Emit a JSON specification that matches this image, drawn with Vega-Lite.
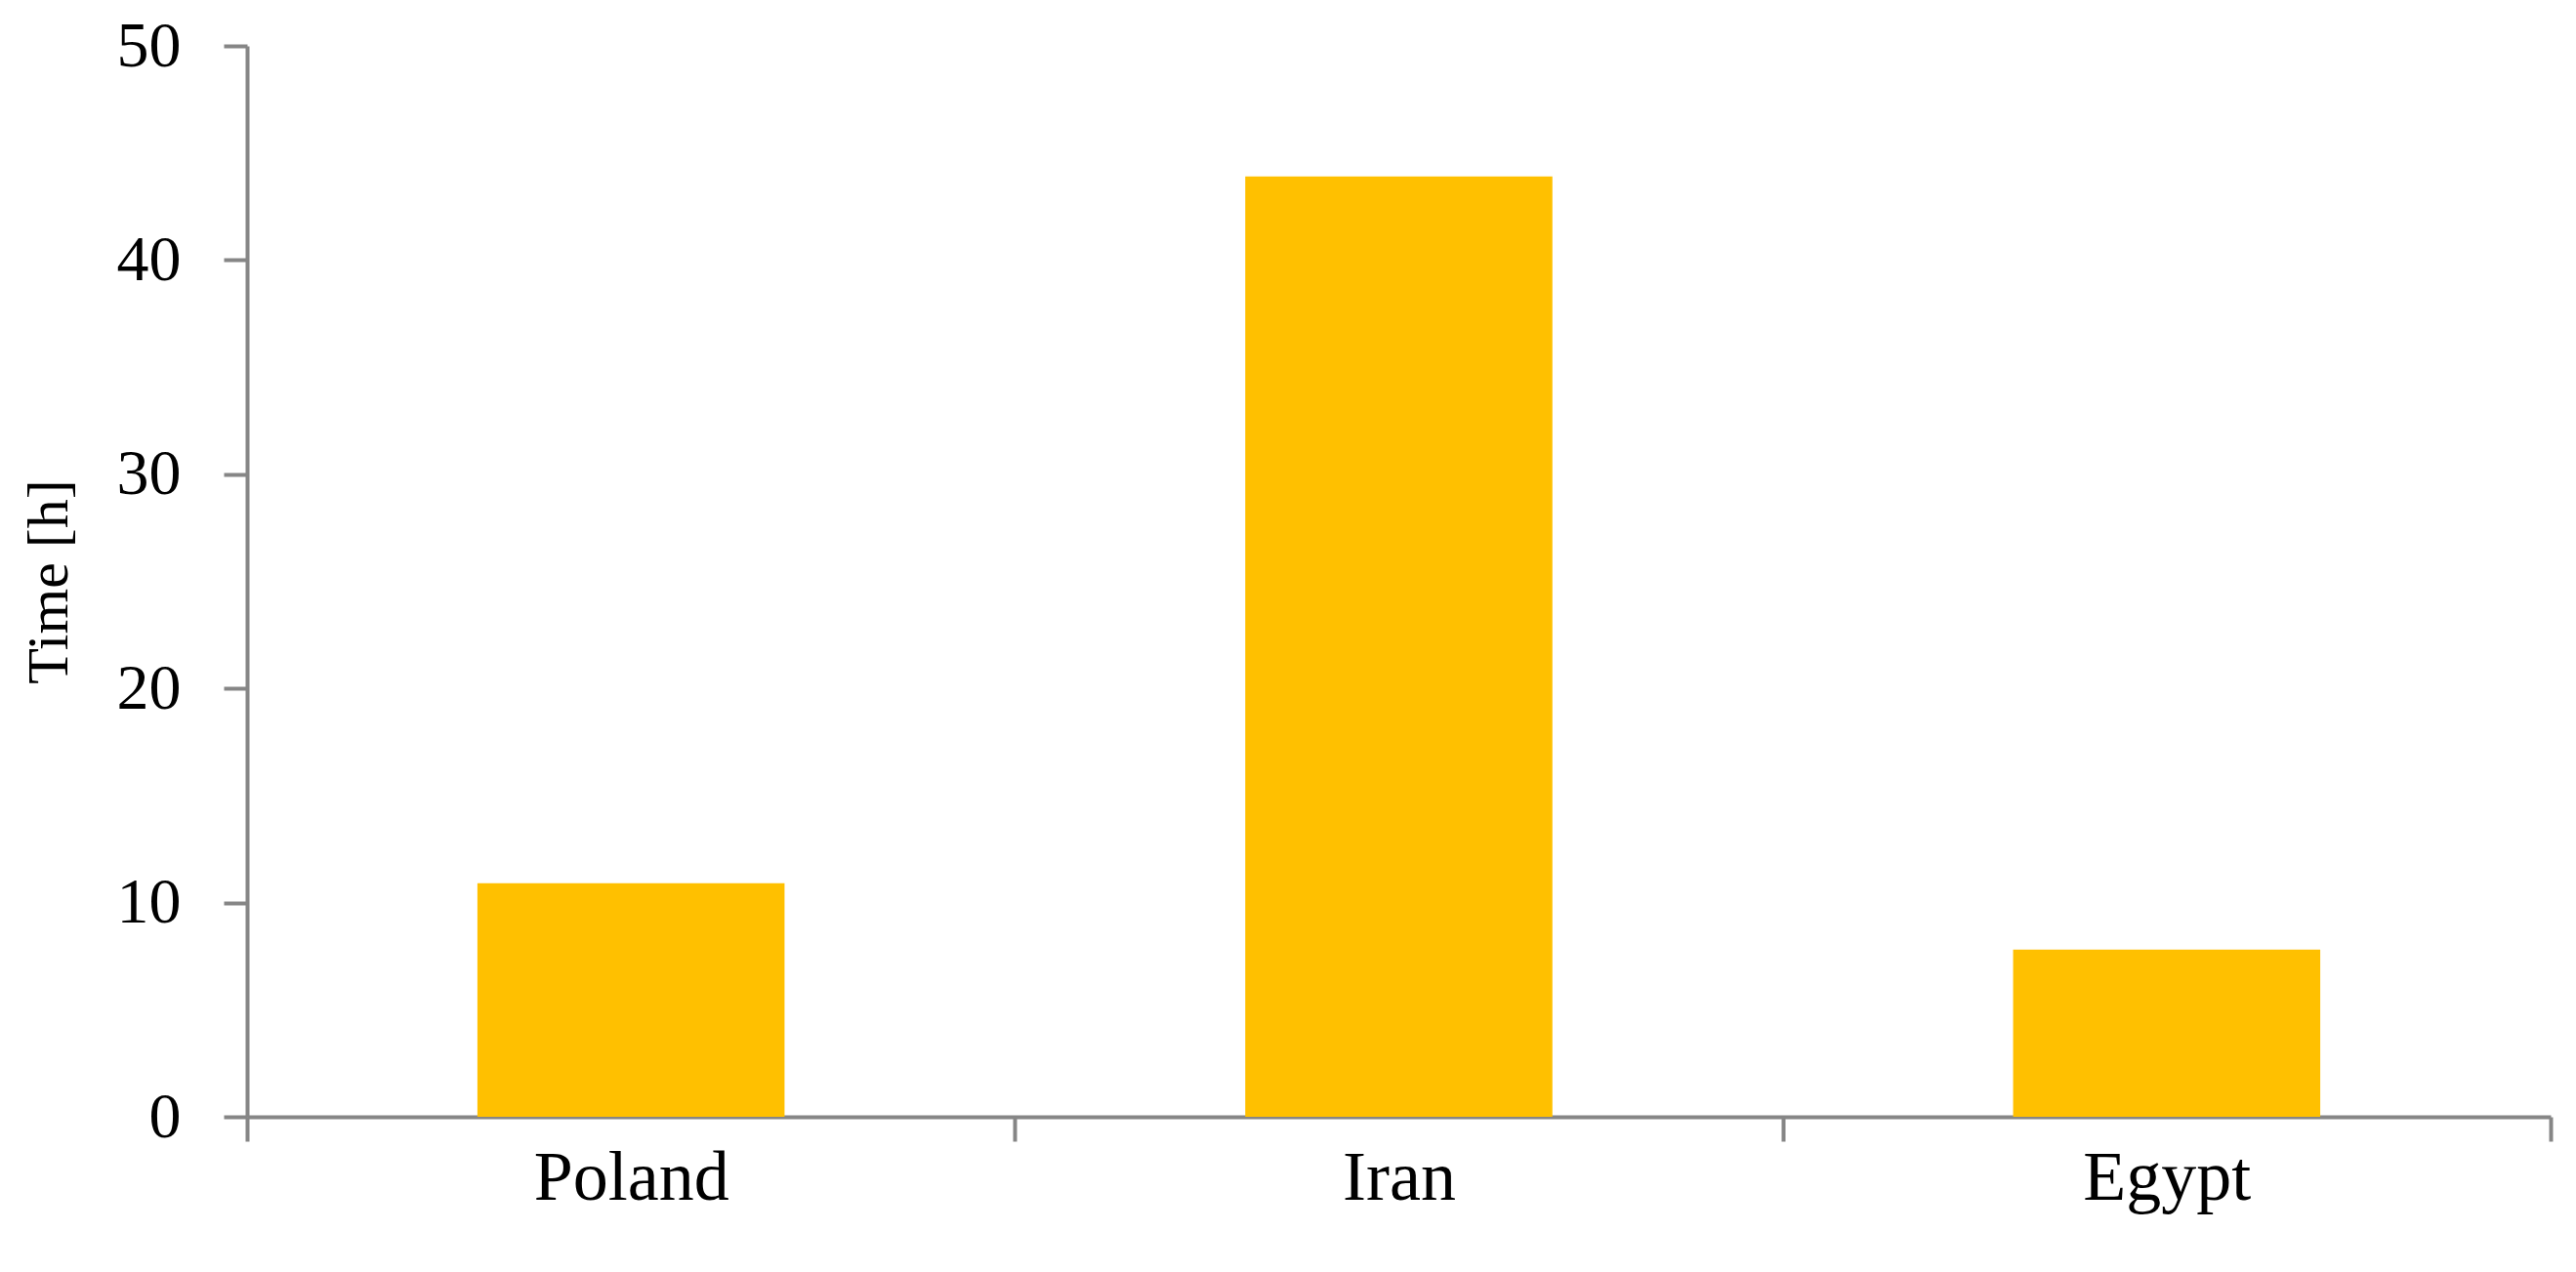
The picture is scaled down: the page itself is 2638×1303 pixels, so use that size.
{
  "$schema": "https://vega.github.io/schema/vega-lite/v6.json",
  "width": 2359,
  "height": 1097,
  "autosize": {"type": "none"},
  "padding": {"left": 253, "top": 47, "right": 26, "bottom": 159},
  "background": "white",
  "data": {"values": [
    {"country": "Poland", "time": 10.9},
    {"country": "Iran", "time": 43.9},
    {"country": "Egypt", "time": 7.8}
  ]},
  "config": {
    "view": {"stroke": null},
    "font": "Liberation Serif",
    "axis": {
      "domainColor": "#868686",
      "tickColor": "#868686",
      "domainWidth": 4,
      "tickWidth": 4,
      "labelColor": "black",
      "titleColor": "black",
      "labelFont": "Liberation Serif",
      "titleFont": "Liberation Serif",
      "labelLimit": 0,
      "grid": false
    }
  },
  "mark": {"type": "bar", "color": "#FFC000", "width": {"band": 0.4}},
  "encoding": {
    "x": {
      "field": "country",
      "type": "nominal",
      "sort": ["Poland", "Iran", "Egypt"],
      "scale": {"paddingInner": 0, "paddingOuter": 0},
      "axis": {
        "title": null,
        "labelAngle": 0,
        "labelFontSize": 72,
        "tickSize": 25,
        "tickBand": "extent",
        "labelPadding": 2
      }
    },
    "y": {
      "field": "time",
      "type": "quantitative",
      "scale": {"domain": [0, 50]},
      "axis": {
        "title": "Time [h]",
        "values": [0, 10, 20, 30, 40, 50],
        "labelFontSize": 66,
        "titleFontSize": 60,
        "titleFontWeight": "normal",
        "tickSize": 24,
        "labelPadding": 44,
        "titlePadding": 38
      }
    }
  }
}
